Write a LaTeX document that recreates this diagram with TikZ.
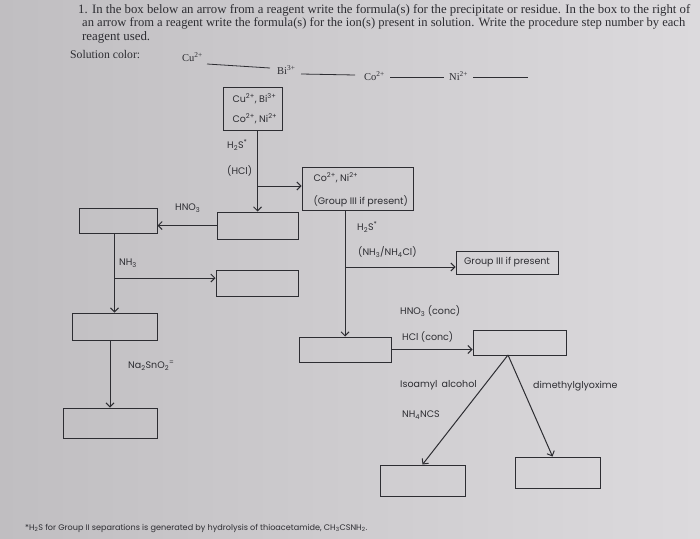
\documentclass[tikz,border=0pt]{standalone}
\usepackage{fontspec}
\setmainfont{Liberation Serif}
\newfontfamily\diag{Poppins}
\usetikzlibrary{arrows.meta}
\definecolor{paper}{RGB}{220,218,221}
\definecolor{paperdark}{RGB}{192,190,193}
\definecolor{ink}{RGB}{45,45,50}
\newcommand{\chsub}[1]{\textsubscript{#1}}
\newcommand{\chsup}[1]{\textsuperscript{#1}}
\begin{document}
\begin{tikzpicture}[x=1pt,y=-1pt,
  box/.style={draw=ink, line width=1pt, inner sep=0pt, rectangle},
  arr/.style={draw=ink, line width=1pt, -{Straight Barb[length=4pt,width=8pt]}},
  lab/.style={font=\diag\fontsize{9.5}{11}\selectfont, text=ink, anchor=west, inner sep=0pt},
  boxtext/.style={font=\diag\fontsize{9.5}{11}\selectfont, text=ink, align=left},
  hdr/.style={font=\fontsize{10}{12}\selectfont, text=ink, anchor=west, inner sep=0pt},
  ion/.style={font=\fontsize{10.5}{12}\selectfont, text=ink, anchor=west, inner sep=0pt},
  blank/.style={draw=ink, line width=0.8pt}
]
\useasboundingbox (0,0) rectangle (700,538);
\shade[left color=paperdark, right color=paper] (0,0) rectangle (700,538);

% header
\node[hdr] (h1) at (78,10) {\resizebox{612pt}{!}{1. In the box below an arrow from a reagent write the formula(s) for the precipitate or residue. In the box to the right of}};
\node[hdr] (h2) at (82,23) {\resizebox{603pt}{!}{an arrow from a reagent write the formula(s) for the ion(s) present in solution. Write the procedure step number by each}};
\node[hdr] (h3) at (82,37) {\resizebox{68pt}{!}{reagent used.}};

% solution color row
\node[hdr] (sc) at (70,55) {\resizebox{70pt}{!}{Solution color:}};
\node[ion] (cu) at (182,57) {Cu\chsup{2+}};
\coordinate (cua) at (207,64); \coordinate (cub) at (270,68);
\draw[blank] (cua) -- (cub);
\node[ion] (bi) at (277,70) {Bi\chsup{3+}};
\coordinate (bia) at (301,74); \coordinate (bib) at (355,75);
\draw[blank] (bia) -- (bib);
\node[ion] (co) at (364,76) {Co\chsup{2+}};
\coordinate (coa) at (390,77); \coordinate (cob) at (444,77);
\draw[blank] (coa) -- (cob);
\node[ion] (ni) at (449,76) {Ni\chsup{2+}};
\coordinate (nia) at (473,77); \coordinate (nib) at (528,77);
\draw[blank] (nia) -- (nib);

% boxes
\node[box, minimum width=59pt, minimum height=43pt] (A) at (252.5,108.5) {};
\node[boxtext, anchor=west] (At) at (229,108.5) {Cu\chsup{2+}, Bi\chsup{3+}\\[9pt]Co\chsup{2+}, Ni\chsup{2+}};
\node[box, minimum width=81pt, minimum height=27pt] (B) at (257.5,225.5) {};
\node[box, minimum width=111pt, minimum height=43pt] (C) at (357.5,188.5) {};
\node[boxtext, anchor=west] (Ct) at (310,189.5) {Co\chsup{2+}, Ni\chsup{2+}\\[12pt](Group III if present)};
\node[box, minimum width=78pt, minimum height=25pt] (D) at (118,220.5) {};
\node[box, minimum width=85pt, minimum height=27pt] (E) at (114.5,326.5) {};
\node[box, minimum width=82pt, minimum height=26pt] (F) at (257,283) {};
\node[box, minimum width=94pt, minimum height=30pt] (G) at (110,423) {};
\node[box, minimum width=92pt, minimum height=25pt] (H) at (345,349.5) {};
\node[box, minimum width=102pt, minimum height=23pt, font=\diag\fontsize{9.5}{11}\selectfont, text=ink] (I) at (507,262.5) {Group III if present};
\node[box, minimum width=93pt, minimum height=25pt] (J) at (519.5,342.5) {};
\node[box, minimum width=85pt, minimum height=31pt] (K) at (422.5,480.5) {};
\node[box, minimum width=85pt, minimum height=31pt] (L) at (557.5,472.5) {};

% connectors
\draw[arr] (B.north |- A.south) -- (B.north);
\coordinate (br1) at (257.5,186);
\draw[arr] (br1) -- (br1 -| C.west);
\draw[arr] (B.west) -- (B.west -| D.east);
\draw[arr] (E.north |- D.south) -- (E.north);
\coordinate (br2) at (114.5,278);
\draw[arr] (br2) -- (br2 -| F.west);
\draw[arr] (G.north |- E.south) -- (G.north);
\draw[arr] (H.north |- C.south) -- (H.north);
\coordinate (br3) at (345,267);
\draw[arr] (br3) -- (br3 -| I.west);
\draw[arr] (H.east) -- (H.east -| J.west);
\coordinate (apex) at (508,355);
\draw[arr] (apex) -- (K.north);
\draw[arr] (apex) -- ([xshift=-5pt]L.north);

% labels
\node[lab] (l1) at (227,145) {H\chsub{2}S\chsup{*}};
\node[lab] (l2) at (227,171) {(HCl)};
\node[lab] (l3) at (175,208) {HNO\chsub{3}};
\node[lab] (l4) at (119,263) {NH\chsub{3}};
\node[lab] (l5) at (128,366) {Na\chsub{2}SnO\chsub{2}\chsup{=}};
\node[lab] (l6) at (357,227) {H\chsub{2}S\chsup{*}};
\node[lab] (l7) at (358,252) {(NH\chsub{3}/NH\chsub{4}Cl)};
\node[lab] (l8) at (400,311) {HNO\chsub{3} (conc)};
\node[lab] (l9) at (402,337) {HCl (conc)};
\node[lab] (l10) at (400,385) {Isoamyl\, alcohol};
\node[lab] (l11) at (402,415) {NH\chsub{4}NCS};
\node[lab] (l12) at (533,386) {dimethylglyoxime};

% footnote
\node[lab] (fn) at (25,528) {\resizebox{342pt}{!}{*H\chsub{2}S for Group II separations is generated by hydrolysis of thioacetamide, CH\chsub{3}CSNH\chsub{2}.}};
\end{tikzpicture}
\end{document}
